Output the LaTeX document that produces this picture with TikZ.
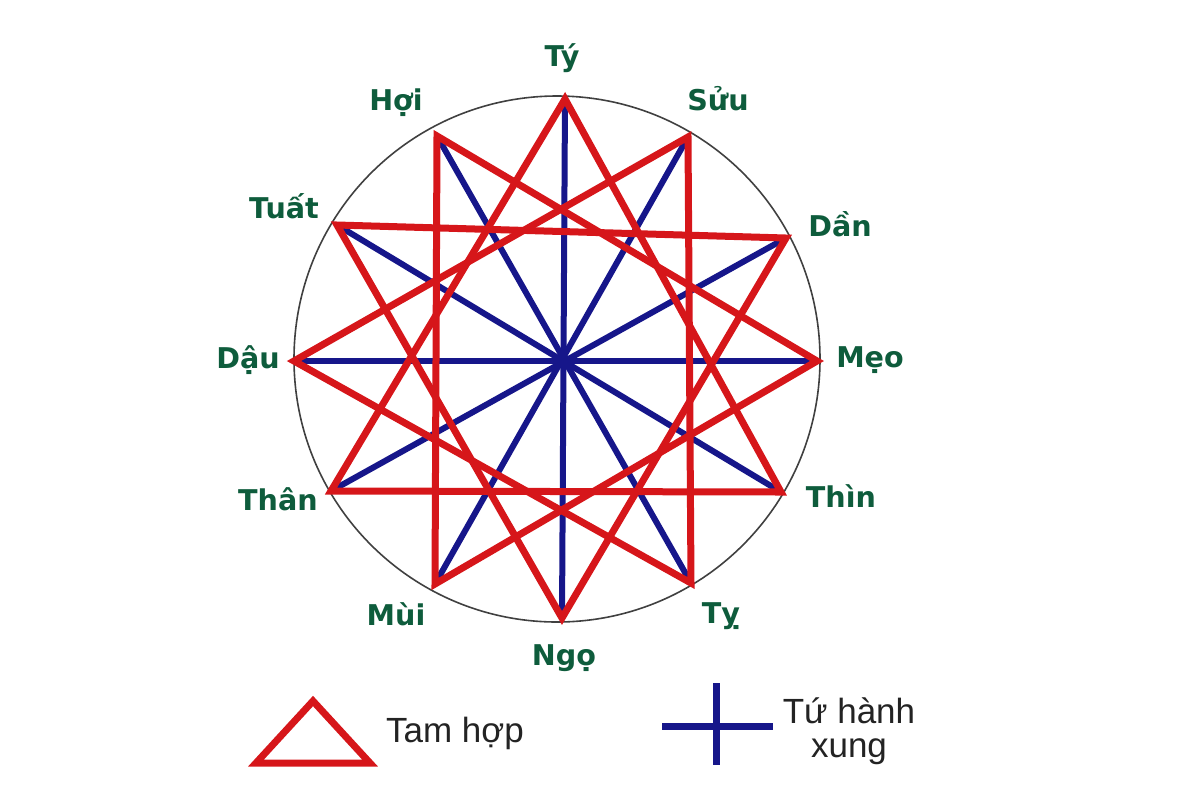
\documentclass[tikz,border=0pt]{standalone}
\usepackage{fontspec}
\usepackage{tikz}
\newfontfamily\chifont{DejaVu Sans}
\newfontfamily\legfont{Liberation Sans}
\definecolor{chigreen}{RGB}{14,92,60}
\definecolor{hopred}{RGB}{214,22,26}
\definecolor{xungblue}{RGB}{22,22,138}
\definecolor{legtext}{RGB}{35,35,35}

\begin{document}
\begin{tikzpicture}[x=0.5pt,y=-0.5pt,
	chi/.style={anchor=base,text=chigreen,font=\chifont\bfseries\fontsize{14.3}{16}\selectfont},
	legend/.style={anchor=base,text=legtext,font=\legfont\fontsize{17.5}{17}\selectfont},
	hop/.style={draw=hopred,line width=3.5pt,line join=miter},
	xung/.style={draw=xungblue,line width=3pt}]
\useasboundingbox (0,0) rectangle (1200,800);
% the twelve branches
\coordinate (tam) at (557,359);
\coordinate (ty) at (565,99);
\coordinate (suu) at (688,137);
\coordinate (dan) at (786,238);
\coordinate (meo) at (817,361);
\coordinate (thin) at (781,492);
\coordinate (ti) at (691,583);
\coordinate (ngo) at (562,618);
\coordinate (mui) at (435,584);
\coordinate (than) at (331,491);
\coordinate (dau) at (294,361);
\coordinate (tuat) at (337,225);
\coordinate (hoi) at (437,136);
\draw [line width=0.8pt,draw=black!75] (tam) circle (131.5pt);
% tu hanh xung
\foreach \a/\b in {ty/ngo,suu/mui,dan/than,meo/dau,thin/tuat,ti/hoi}
	\draw [xung] (\a) -- (\b);
% tam hop
\foreach \a/\b/\c in {than/ty/thin,dan/ngo/tuat,hoi/meo/mui,ti/dau/suu}
	\draw [hop] (\a) -- (\b) -- (\c) -- cycle;
% names
\node [chi] (Lty) at (562,66) {Tý};
\node [chi] (Lsuu) at (718,110) {Sửu};
\node [chi] (Ldan) at (840,236) {Dần};
\node [chi] (Lmeo) at (870,367) {Mẹo};
\node [chi] (Lthin) at (841,507) {Thìn};
\node [chi] (Lti) at (721,623) {Tỵ};
\node [chi] (Lngo) at (564,665) {Ngọ};
\node [chi] (Lmui) at (396,625) {Mùi};
\node [chi] (Lthan) at (278,510) {Thân};
\node [chi] (Ldau) at (248,368) {Dậu};
\node [chi] (Ltuat) at (284,218) {Tuất};
\node [chi] (Lhoi) at (396,110) {Hợi};
% legend
\coordinate (ga) at (256,763);
\coordinate (gb) at (370,763);
\coordinate (gc) at (313,701);
\draw [hop] (ga) -- (gb) -- (gc) -- cycle;
\node [legend] (tamhop) at (455,742) {Tam hợp};
\coordinate (xa) at (662,726);
\coordinate (xb) at (773,726);
\coordinate (xc) at (716,683);
\coordinate (xd) at (716,765);
\draw [xung,line width=3.5pt] (xa) -- (xb) (xc) -- (xd);
\node [legend,align=center] (tuhanh) at (849,757) {Tứ hành\\xung};
\end{tikzpicture}
\end{document}
